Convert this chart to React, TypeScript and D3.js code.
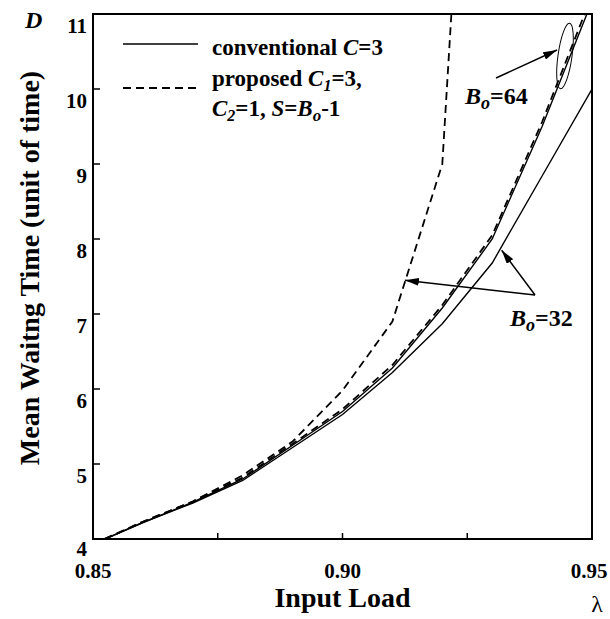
import React from 'react';
import * as d3 from 'd3';

const loads = [0.85, 0.86, 0.87, 0.88, 0.89, 0.90, 0.91, 0.92, 0.93, 0.94, 0.95];
const conv32 = [3.93, 4.22, 4.48, 4.78, 5.22, 5.66, 6.22, 6.87, 7.68, 8.84, 10.0];
const conv64 = [3.93, 4.22, 4.49, 4.80, 5.25, 5.70, 6.28, 7.08, 8.00, 9.50, 11.17];
const prop64 = [3.93, 4.23, 4.50, 4.82, 5.27, 5.73, 6.32, 7.12, 8.05, 9.56, 11.25];
const prop32Loads = [0.85, 0.86, 0.87, 0.88, 0.89, 0.90, 0.91, 0.92, 0.93];
const prop32 = [3.93, 4.23, 4.50, 4.85, 5.30, 5.98, 6.90, 9.00, 20.0];
const yTicks = [4, 5, 6, 7, 8, 9, 10, 11];
const xTickLabels = [0.85, 0.90, 0.95];
const xMinorTicks = [0.875, 0.90, 0.925];

const FONT = '"Liberation Serif", "Times New Roman", serif';

export default function App() {
  const left = 93, right = 592, top = 14, bottom = 539;
  const x = d3.scaleLinear().domain([0.85, 0.95]).range([left, right]);
  const y = d3.scaleLinear().domain([4, 11]).range([bottom, top]);
  const mk = (xs: number[], ys: number[]) =>
    d3.line<[number, number]>().x(d => x(d[0])).y(d => y(d[1]))(xs.map((v, i) => [v, ys[i]] as [number, number])) || '';

  const tip32a: [number, number] = [x(0.9125), y(7.45)];
  const tip32b: [number, number] = [x(0.9319), y(7.85)];
  const from32: [number, number] = [535, 295];
  const tip64: [number, number] = [557, 50];
  const from64: [number, number] = [496, 78];

  return (
    <svg width={610} height={619} style={{ position: 'absolute', left: 0, top: 0, background: '#fff' }} fontFamily={FONT}>
      <defs>
        <clipPath id="plot"><rect x={left} y={top} width={right - left} height={bottom - top} /></clipPath>
        <marker id="ah" viewBox="0 0 14 8" refX={14} refY={4} markerWidth={14} markerHeight={8} markerUnits="userSpaceOnUse" orient="auto">
          <path d="M0,0 L14,4 L0,8 Z" fill="#000" />
        </marker>
      </defs>
      <rect x={0} y={0} width={610} height={619} fill="#fff" />
      <g clipPath="url(#plot)" fill="none" stroke="#000">
        <path d={mk(loads, conv32)} strokeWidth={1.4} />
        <path d={mk(loads, conv64)} strokeWidth={1.4} />
        <path d={mk(loads, prop64)} strokeWidth={1.8} strokeDasharray="8,5" />
        <path d={mk(prop32Loads, prop32)} strokeWidth={1.8} strokeDasharray="8,5" />
      </g>
      <rect x={left} y={top} width={right - left} height={bottom - top} fill="none" stroke="#000" strokeWidth={2} />
      {yTicks.filter(t => t > 4 && t < 11).map(t => (
        <line key={t} x1={left} x2={left + 7} y1={y(t)} y2={y(t)} stroke="#000" strokeWidth={1.5} />
      ))}
      {xMinorTicks.map(t => (
        <line key={t} x1={x(t)} x2={x(t)} y1={bottom} y2={bottom - 6} stroke="#000" strokeWidth={1.5} />
      ))}
      {yTicks.map(t => (
        <text key={t} x={87} y={t === 4 ? 556 : y(t) + 19} textAnchor="end" fontSize={21} fontWeight="bold">{t}</text>
      ))}
      {xTickLabels.map(t => (
        <text key={t} x={x(t) - (t === 0.95 ? 3 : 0)} y={578} textAnchor="middle" fontSize={21} fontWeight="bold">{t.toFixed(2)}</text>
      ))}
      <text x={x(0.90)} y={607} textAnchor="middle" fontSize={28} fontWeight="bold">Input Load</text>
      <text x={597} y={612} textAnchor="middle" fontSize={24}>λ</text>
      <text transform="translate(39,268) rotate(-90)" textAnchor="middle" fontSize={28} fontWeight="bold">Mean Waitng Time (unit of time)</text>
      <text x={25} y={28} fontSize={24} fontWeight="bold" fontStyle="italic">D</text>

      {/* legend */}
      <line x1={123} x2={198} y1={44} y2={44} stroke="#000" strokeWidth={1.5} />
      <line x1={123} x2={198} y1={88} y2={88} stroke="#000" strokeWidth={1.8} strokeDasharray="8,5" />
      <text x={212} y={55} fontSize={23} fontWeight="bold">
        <tspan>conventional </tspan><tspan fontStyle="italic">C</tspan><tspan>=3</tspan>
      </text>
      <text x={212} y={86} fontSize={23} fontWeight="bold">
        <tspan>proposed </tspan><tspan fontStyle="italic">C</tspan>
        <tspan fontStyle="italic" fontSize={16} dy={5}>1</tspan>
        <tspan dy={-5}>=3,</tspan>
      </text>
      <text x={212} y={116} fontSize={23} fontWeight="bold">
        <tspan fontStyle="italic">C</tspan>
        <tspan fontStyle="italic" fontSize={16} dy={5}>2</tspan>
        <tspan dy={-5}>=1, </tspan>
        <tspan fontStyle="italic">S</tspan><tspan>=</tspan><tspan fontStyle="italic">B</tspan>
        <tspan fontStyle="italic" fontSize={17} dy={5}>o</tspan>
        <tspan dy={-5}>-1</tspan>
      </text>

      {/* Bo=64 annotation */}
      <ellipse cx={565} cy={56} rx={7} ry={33} transform="rotate(8,565,56)" fill="none" stroke="#000" strokeWidth={1} />
      <line x1={from64[0]} y1={from64[1]} x2={tip64[0]} y2={tip64[1]} stroke="#000" strokeWidth={1.5} markerEnd="url(#ah)" />
      <text x={465} y={104} fontSize={24} fontWeight="bold">
        <tspan fontStyle="italic">B</tspan>
        <tspan fontStyle="italic" fontSize={18} dy={5}>o</tspan>
        <tspan dy={-5}>=64</tspan>
      </text>

      {/* Bo=32 annotation */}
      <line x1={from32[0]} y1={from32[1]} x2={tip32a[0]} y2={tip32a[1]} stroke="#000" strokeWidth={1.5} markerEnd="url(#ah)" />
      <line x1={from32[0]} y1={from32[1]} x2={tip32b[0]} y2={tip32b[1]} stroke="#000" strokeWidth={1.5} markerEnd="url(#ah)" />
      <text x={510} y={326} fontSize={24} fontWeight="bold">
        <tspan fontStyle="italic">B</tspan>
        <tspan fontStyle="italic" fontSize={18} dy={5}>o</tspan>
        <tspan dy={-5}>=32</tspan>
      </text>
    </svg>
  );
}
